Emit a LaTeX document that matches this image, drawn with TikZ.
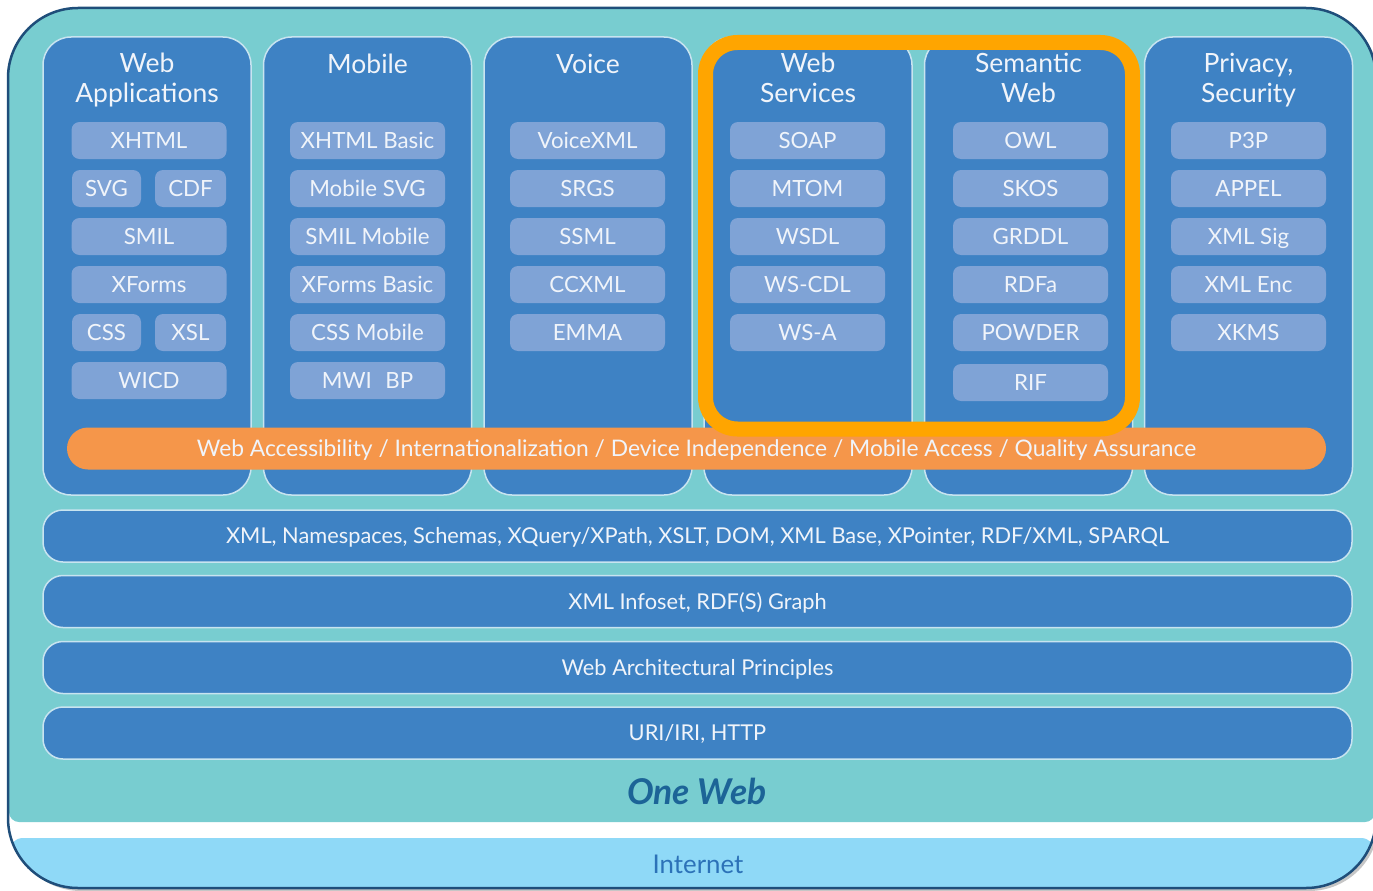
\documentclass[tikz,border=0pt]{standalone}
\usepackage{fontspec}
\setmainfont{Lato}
\usetikzlibrary{shadows}
\definecolor{owteal}{RGB}{120,205,208}
\definecolor{owblue}{RGB}{62,130,196}
\definecolor{owsub}{RGB}{127,163,214}
\definecolor{owtext}{RGB}{240,244,250}
\definecolor{owline}{RGB}{200,228,240}
\definecolor{owframe}{RGB}{255,165,0}
\definecolor{oworange}{RGB}{245,150,74}
\definecolor{owsky}{RGB}{143,217,247}
\definecolor{owborder}{RGB}{31,78,122}
\definecolor{owdark}{RGB}{28,100,151}
\definecolor{owinet}{RGB}{44,114,184}
\begin{document}
\begin{tikzpicture}[x=1pt,y=-1pt,
  col/.style={draw=owline, line width=1.5pt, fill=owblue, rounded corners=28pt,
    minimum width=208pt, minimum height=458pt, inner sep=0pt},
  sub/.style={fill=owsub, rounded corners=8pt, minimum width=155pt, minimum height=37pt,
    inner sep=0pt, text=owtext, font=\fontsize{22.3}{25}\selectfont,
    text height=16pt, text depth=0pt},
  title/.style={text=owtext, font=\fontsize{26.5}{30}\selectfont, inner sep=0pt, anchor=base},
  bar/.style={draw=owline, line width=1.5pt, fill=owblue, rounded corners=20pt,
    minimum width=1309pt, minimum height=52pt, inner sep=0pt, text=owtext,
    font=\fontsize{21.8}{25}\selectfont, text height=15.5pt, text depth=0pt}]
\useasboundingbox (0,0) rectangle (1373,891);
% outer frame
\path[rounded corners=70pt, fill=white,
  drop shadow={shadow xshift=3pt, shadow yshift=-3pt, opacity=0.45}] (8,8) rectangle (1376,888);
\begin{scope}
  \clip[rounded corners=70pt] (8,8) rectangle (1376,888);
  \fill[white] (0,0) rectangle (1380,900);
  \fill[owteal, rounded corners=10pt] (9,0) rectangle (1375,822);
  \fill[owsky, rounded corners=14pt] (9,838) rectangle (1375,900);
\end{scope}
\draw[owborder, line width=2.5pt, rounded corners=70pt] (8,8) rectangle (1376,888);

% columns
\node[col] (c1) at (147,266) {};
\node[col] (c2) at (367.5,266) {};
\node[col] (c3) at (588,266) {};
\node[col] (c4) at (808,266) {};
\node[col] (c5) at (1028.5,266) {};
\node[col] (c6) at (1248.5,266) {};

% titles
\node[title] (t1a) at (147,72) {Web};
\node[title] (t1b) at (147,102) {Applications};
\node[title] (t2) at (367.5,74) {Mobile};
\node[title] (t3) at (588,74) {Voice};
\node[title] (t4a) at (808,73) {Web};
\node[title] (t4b) at (808,102) {Services};
\node[title] (t5a) at (1028.5,73) {Semantic};
\node[title] (t5b) at (1028.5,102) {Web};
\node[title] (t6a) at (1248.5,73) {Privacy,};
\node[title] (t6b) at (1248.5,102) {Security};

% Web Applications
\node[sub] (wa1) at (149,140.5) {XHTML};
\node[sub, minimum width=69pt] (wa2a) at (106.5,188.5) {SVG};
\node[sub, minimum width=71pt] (wa2b) at (190.5,188.5) {CDF};
\node[sub] (wa3) at (149,236.5) {SMIL};
\node[sub] (wa4) at (149,284.5) {XForms};
\node[sub, minimum width=69pt] (wa5a) at (106.5,332.5) {CSS};
\node[sub, minimum width=71pt] (wa5b) at (190.5,332.5) {XSL};
\node[sub] (wa6) at (149,380.5) {WICD};

% Mobile
\node[sub] (mo1) at (367.5,140.5) {XHTML Basic};
\node[sub] (mo2) at (367.5,188.5) {Mobile SVG};
\node[sub] (mo3) at (367.5,236.5) {SMIL Mobile};
\node[sub] (mo4) at (367.5,284.5) {XForms Basic};
\node[sub] (mo5) at (367.5,332.5) {CSS Mobile};
\node[sub] (mo6) at (367.5,380.5) {MWI\hspace{0.6em}BP};

% Voice
\node[sub] (vo1) at (587.5,140.5) {VoiceXML};
\node[sub] (vo2) at (587.5,188.5) {SRGS};
\node[sub] (vo3) at (587.5,236.5) {SSML};
\node[sub] (vo4) at (587.5,284.5) {CCXML};
\node[sub] (vo5) at (587.5,332.5) {EMMA};

% Web Services
\node[sub] (ws1) at (807.5,140.5) {SOAP};
\node[sub] (ws2) at (807.5,188.5) {MTOM};
\node[sub] (ws3) at (807.5,236.5) {WSDL};
\node[sub] (ws4) at (807.5,284.5) {WS-CDL};
\node[sub] (ws5) at (807.5,332.5) {WS-A};

% Semantic Web
\node[sub] (sw1) at (1030.5,140.5) {OWL};
\node[sub] (sw2) at (1030.5,188.5) {SKOS};
\node[sub] (sw3) at (1030.5,236.5) {GRDDL};
\node[sub] (sw4) at (1030.5,284.5) {RDFa};
\node[sub] (sw5) at (1030.5,332.5) {POWDER};
\node[sub] (sw6) at (1030.5,382.5) {RIF};

% Privacy, Security
\node[sub] (ps1) at (1248.5,140.5) {P3P};
\node[sub] (ps2) at (1248.5,188.5) {APPEL};
\node[sub] (ps3) at (1248.5,236.5) {XML Sig};
\node[sub] (ps4) at (1248.5,284.5) {XML Enc};
\node[sub] (ps5) at (1248.5,332.5) {XKMS};

% orange bar
\node[fill=oworange, rounded corners=21pt, minimum width=1259pt, minimum height=42pt,
  inner sep=0pt, text=owtext, font=\fontsize{22.8}{26}\selectfont, text height=16pt, text depth=0pt]
  (acc) at (696.5,448.5) {Web Accessibility / Internationalization / Device Independence / Mobile Access / Quality Assurance};

% highlight frame
\node[draw=owframe, line width=15pt, rounded corners=32pt, minimum width=427pt,
  minimum height=386.5pt, inner sep=0pt] (hl) at (919,235.75) {};

% horizontal layers
\node[bar] (b1) at (697.5,536) {XML, Namespaces, Schemas, XQuery/XPath, XSLT, DOM, XML Base, XPointer, RDF/XML, SPARQL};
\node[bar] (b2) at (697.5,601.5) {XML Infoset, RDF(S) Graph};
\node[bar] (b3) at (697.5,667.5) {Web Architectural Principles};
\node[bar] (b4) at (697.5,733) {URI/IRI, HTTP};

\node[text=owdark, font=\fontsize{35.5}{40}\bfseries\itshape, inner sep=0pt] (one) at (697,791) {One Web};
\node[text=owinet, font=\fontsize{25.8}{30}\selectfont, inner sep=0pt] (inet) at (698,864) {Internet};
\end{tikzpicture}
\end{document}
